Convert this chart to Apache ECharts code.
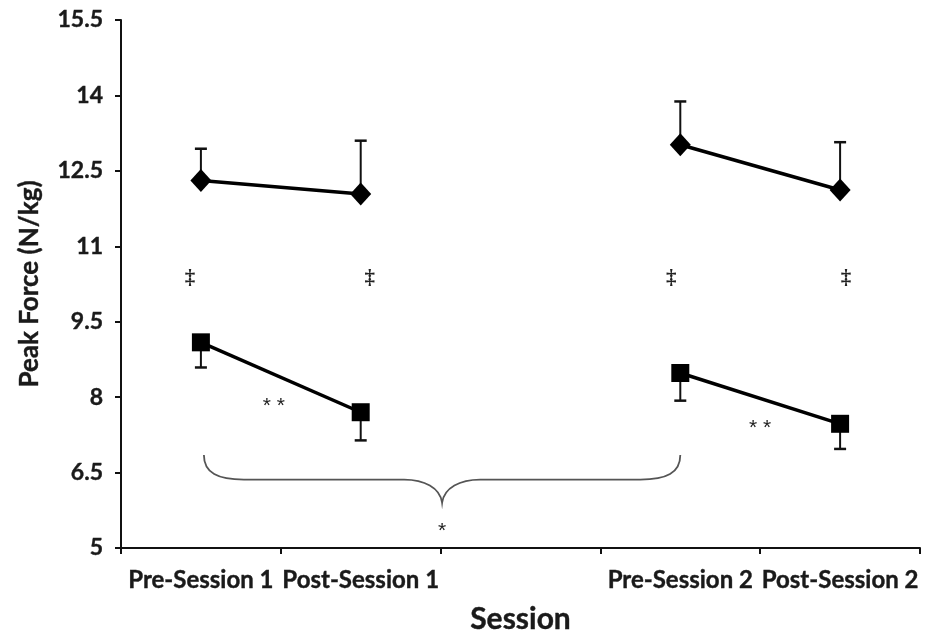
<!DOCTYPE html>
<html>
<head>
<meta charset="utf-8">
<script src="https://cdn.jsdelivr.net/npm/echarts@6/dist/echarts.min.js"></script>
<style>
html,body{margin:0;padding:0;background:#fff;}
#chart{width:931px;height:634px;}
</style>
</head>
<body>
<div id="chart"></div>
<script>
// ---- data ----
var categories = ['Pre-Session 1', 'Post-Session 1', '', 'Pre-Session 2', 'Post-Session 2'];
var diamondCats = [0, 1, 3, 4];
var diamondValues = [12.31, 12.04, 13.02, 12.12];
var diamondErrTop = [12.94, 13.10, 13.88, 13.07];
var squareCats = [0, 1, 3, 4];
var squareValues = [9.09, 7.70, 8.48, 7.47];
var squareErrBottom = [8.59, 7.14, 7.93, 6.97];
var yTicks = {min: 5, max: 15.5, interval: 1.5};

// annotations: [catA, catB, value, text]
var annCatA = [0, 1, 3, 4, 0, 3];
var annCatB = [0, 1, 3, 4, 1, 4];
var annValue = [10.41, 10.41, 10.41, 10.41, 7.93, 7.51];
var annText = ['\u2021', '\u2021', '\u2021', '\u2021', '* *', '* *'];
var annDx = [-11, 9, -9, 6, -7, 0]; // styling offsets (px)

// brace spanning Pre-Session 1 to Pre-Session 2
var braceFrom = 0, braceTo = 3;
var braceTop = 6.85, braceMid = 6.36, braceTip = 5.90, braceStarValue = 5.46;
var braceText = '*';

var chart = echarts.init(document.getElementById('chart'));

function seriesData(cats, vals) {
  return cats.map(function (c, i) { return [c, vals[i]]; });
}

function errorRender(cats, vals, ends) {
  return function (params, api) {
    var i = params.dataIndex;
    var p0 = api.coord([cats[i], vals[i]]);
    var p1 = api.coord([cats[i], ends[i]]);
    var cap = 6;
    return {
      type: 'group',
      children: [
        {type: 'line', shape: {x1: p0[0], y1: p0[1], x2: p1[0], y2: p1[1]}, style: {stroke: '#111', lineWidth: 2}},
        {type: 'line', shape: {x1: p1[0] - cap, y1: p1[1], x2: p1[0] + cap, y2: p1[1]}, style: {stroke: '#111', lineWidth: 2.5}}
      ]
    };
  };
}

var labelFont = {fontFamily: 'Lato', fontWeight: 'bold', color: '#1a1a1a', textBorderColor: '#1a1a1a', textBorderWidth: 0.4};

var option = {
  backgroundColor: '#fff',
  animation: false,
  grid: {left: 121, right: 11, top: 20, bottom: 86, containLabel: false, outerBoundsMode: 'none'},
  xAxis: {
    type: 'category',
    data: categories,
    boundaryGap: true,
    name: 'Session',
    nameLocation: 'middle',
    nameGap: 56,
    nameTextStyle: Object.assign({}, labelFont, {fontSize: 30}),
    axisLine: {lineStyle: {color: '#111', width: 2}},
    axisTick: {show: true, interval: 0, length: 6, lineStyle: {color: '#111', width: 2}},
    axisLabel: Object.assign({interval: 0, margin: 20, fontSize: 24}, labelFont),
    splitLine: {show: false}
  },
  yAxis: {
    type: 'value',
    min: yTicks.min, max: yTicks.max, interval: yTicks.interval,
    name: 'Peak Force (N/kg)',
    nameLocation: 'middle',
    nameGap: 78,
    nameTextStyle: Object.assign({}, labelFont, {fontSize: 26}),
    axisLine: {show: true, lineStyle: {color: '#111', width: 2}},
    axisTick: {show: true, length: 6, lineStyle: {color: '#111', width: 2}},
    axisLabel: Object.assign({margin: 18, fontSize: 23}, labelFont),
    splitLine: {show: false}
  },
  series: [
    {
      type: 'custom', name: 'diamondErr', z: 1,
      renderItem: errorRender(diamondCats, diamondValues, diamondErrTop),
      data: seriesData(diamondCats, diamondErrTop)
    },
    {
      type: 'custom', name: 'squareErr', z: 1,
      renderItem: errorRender(squareCats, squareValues, squareErrBottom),
      data: seriesData(squareCats, squareErrBottom)
    },
    {
      type: 'line', name: 'Diamond A', z: 3,
      data: seriesData([diamondCats[0], diamondCats[1]], [diamondValues[0], diamondValues[1]]),
      symbol: 'diamond', symbolSize: [21, 23],
      itemStyle: {color: '#000'},
      lineStyle: {color: '#000', width: 3.5}
    },
    {
      type: 'line', name: 'Diamond B', z: 3,
      data: seriesData([diamondCats[2], diamondCats[3]], [diamondValues[2], diamondValues[3]]),
      symbol: 'diamond', symbolSize: [21, 23],
      itemStyle: {color: '#000'},
      lineStyle: {color: '#000', width: 3.5}
    },
    {
      type: 'line', name: 'Square A', z: 3,
      data: seriesData([squareCats[0], squareCats[1]], [squareValues[0], squareValues[1]]),
      symbol: 'rect', symbolSize: 18,
      itemStyle: {color: '#000'},
      lineStyle: {color: '#000', width: 3.5}
    },
    {
      type: 'line', name: 'Square B', z: 3,
      data: seriesData([squareCats[2], squareCats[3]], [squareValues[2], squareValues[3]]),
      symbol: 'rect', symbolSize: 18,
      itemStyle: {color: '#000'},
      lineStyle: {color: '#000', width: 3.5}
    },
    {
      type: 'custom', name: 'annotations', z: 4,
      data: annValue.map(function (v, i) { return [annCatA[i], v]; }),
      renderItem: function (params, api) {
        var i = params.dataIndex;
        var a = api.coord([annCatA[i], annValue[i]]);
        var b = api.coord([annCatB[i], annValue[i]]);
        var isDagger = annText[i] === '\u2021';
        return {
          type: 'text',
          style: {
            x: (a[0] + b[0]) / 2 + annDx[i], y: a[1] + (isDagger ? 3 : 6),
            text: annText[i],
            align: 'center', verticalAlign: 'middle',
            font: isDagger ? 'bold 21px "Liberation Serif"' : '21px "Liberation Sans"',
            fill: '#222'
          }
        };
      }
    },
    {
      type: 'custom', name: 'brace', z: 2,
      data: [[braceFrom, braceTop]],
      renderItem: function (params, api) {
        var l = api.coord([braceFrom, braceTop]);
        var r = api.coord([braceTo, braceTop]);
        var yT = l[1];
        var yM = api.coord([braceFrom, braceMid])[1];
        var yP = api.coord([braceFrom, braceTip])[1];
        var yS = api.coord([braceFrom, braceStarValue])[1];
        var xL = l[0] + 3, xR = r[0];
        var xm = (xL + xR) / 2;
        var d = 'M' + xL + ' ' + yT +
          ' C' + xL + ' ' + (yT + 18) + ' ' + (xL + 14) + ' ' + yM + ' ' + (xL + 40) + ' ' + yM +
          ' L' + (xm - 38) + ' ' + yM +
          ' C' + (xm - 18) + ' ' + yM + ' ' + (xm - 2) + ' ' + (yM + 8) + ' ' + xm + ' ' + yP +
          ' C' + (xm + 2) + ' ' + (yM + 8) + ' ' + (xm + 18) + ' ' + yM + ' ' + (xm + 38) + ' ' + yM +
          ' L' + (xR - 40) + ' ' + yM +
          ' C' + (xR - 14) + ' ' + yM + ' ' + xR + ' ' + (yT + 18) + ' ' + xR + ' ' + yT;
        return {
          type: 'group',
          children: [
            {type: 'path', shape: {pathData: d}, style: {stroke: '#555', fill: null, lineWidth: 1.8}},
            {type: 'text', style: {x: xm, y: yS + 6, text: braceText, align: 'center', verticalAlign: 'middle',
              font: '21px "Liberation Sans"', fill: '#222'}}
          ]
        };
      }
    }
  ]
};
chart.setOption(option);
</script>
</body>
</html>
